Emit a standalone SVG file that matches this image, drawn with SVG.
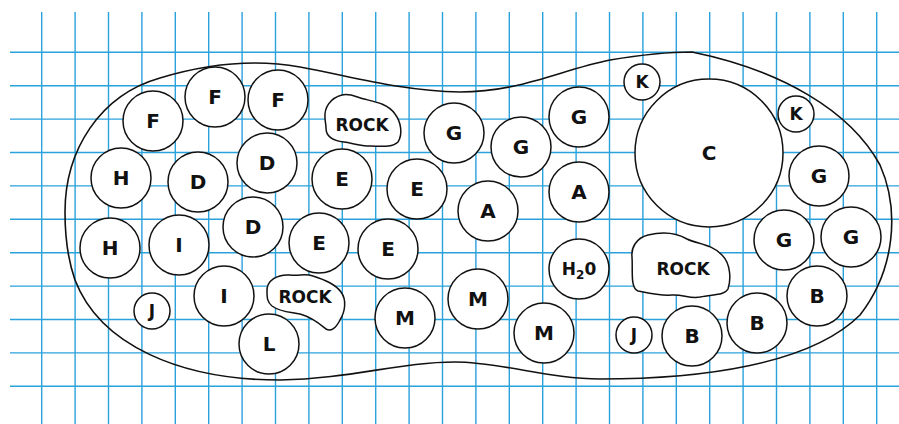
<svg xmlns="http://www.w3.org/2000/svg" width="899" height="424" viewBox="0 0 899 424">
<style>
.grid{stroke:#2aa2dc;stroke-width:1.4;fill:none}
.outline{fill:none;stroke:#111;stroke-width:1.6}
circle{fill:#fff;stroke:#111;stroke-width:1.5}
.rock{fill:#fff;stroke:#111;stroke-width:1.5}
text{font-family:"DejaVu Sans","Liberation Sans",sans-serif;font-weight:bold;font-size:20px;fill:#111;text-anchor:middle}
.rt{font-size:17px}
.st{font-size:17px}
</style>
<rect width="899" height="424" fill="#fff"/>
<g id="grid">
<path class="grid" d="M41.7 12V424M75.1 12V424M108.5 12V424M141.9 12V424M175.3 12V424M208.7 12V424M242.1 12V424M275.5 12V424M308.9 12V424M342.3 12V424M375.7 12V424M409.1 12V424M442.5 12V424M475.9 12V424M509.3 12V424M542.7 12V424M576.1 12V424M609.5 12V424M642.9 12V424M676.3 12V424M709.7 12V424M743.1 12V424M776.5 12V424M809.9 12V424M843.3 12V424M876.7 12V424"/>
<path class="grid" d="M10 52.3H899M10 85.7H899M10 119.1H899M10 152.5H899M10 185.9H899M10 219.3H899M10 252.7H899M10 286.1H899M10 319.5H899M10 352.9H899M10 386.3H899"/>
</g>
<g id="connectors">
<path class="outline" d="M65 212 C65 150 100 95 160 78 C200 66 250 58 300 67 C350 76 400 91 460 92 C520 92 560 70 610 60 C640 55 670 52 692 52 C780 70 850 110 880 165 C900 210 895 270 860 315 C810 365 700 379 600 379 C550 379 500 362 455 362 C400 362 350 379 280 380 C180 380 100 345 75 280 C68 260 65 235 65 212 Z"/>
</g>
<g id="rock1"><path class="rock" d="M267 292 C266 280 278 274 290 275 C300 276 305 273 313 276 C325 280 335 284 341 292 C347 300 345 312 340 320 C336 328 331 332 326 329 C320 324 312 317 300 314 C290 312 280 312 272 306 C267 302 267 297 267 292 Z"/><text class="rt" x="305" y="303">ROCK</text></g>
<g id="rock2"><path class="rock" d="M325 118 C324 108 330 98 342 95 C350 93 356 97 364 99 C376 102 388 104 395 114 C401 122 403 134 398 142 C392 148 380 146 370 146 C360 146 352 143 344 142 C334 141 326 138 326 128 C326 124 325 121 325 118 Z"/><text class="rt" x="362" y="131">ROCK</text></g>
<g id="rock3"><path class="rock" d="M632 257 C631 248 636 238 648 235 C660 232 675 232 687 239 C697 244 712 244 722 255 C731 264 731 280 728 289 C724 296 712 294 700 297 C690 299 682 294 672 295 C660 296 648 293 638 291 C630 288 633 270 632 257 Z"/><text class="rt" x="683" y="275">ROCK</text></g>
<g id="F1"><circle cx="153" cy="121" r="30"/><text x="153" y="128">F</text></g>
<g id="F2"><circle cx="215" cy="97" r="30"/><text x="215" y="104">F</text></g>
<g id="F3"><circle cx="278" cy="100" r="30"/><text x="278" y="107">F</text></g>
<g id="H1"><circle cx="121" cy="178" r="30"/><text x="121" y="185">H</text></g>
<g id="D1"><circle cx="198" cy="182" r="30"/><text x="198" y="189">D</text></g>
<g id="D2"><circle cx="267" cy="163" r="30"/><text x="267" y="170">D</text></g>
<g id="H2"><circle cx="110" cy="248" r="30"/><text x="110" y="255">H</text></g>
<g id="I1"><circle cx="179" cy="245" r="30"/><text x="179" y="252">I</text></g>
<g id="D3"><circle cx="253" cy="227" r="30"/><text x="253" y="234">D</text></g>
<g id="J1"><circle cx="152" cy="311" r="18"/><text class="st" x="152" y="317">J</text></g>
<g id="I2"><circle cx="224" cy="296" r="30"/><text x="224" y="303">I</text></g>
<g id="L"><circle cx="269" cy="344" r="30"/><text x="269" y="351">L</text></g>
<g id="E1"><circle cx="342" cy="179" r="30"/><text x="342" y="186">E</text></g>
<g id="E2"><circle cx="417" cy="189" r="30"/><text x="417" y="196">E</text></g>
<g id="E3"><circle cx="319" cy="243" r="30"/><text x="319" y="250">E</text></g>
<g id="E4"><circle cx="388" cy="249" r="30"/><text x="388" y="256">E</text></g>
<g id="G1"><circle cx="454" cy="133" r="30"/><text x="454" y="140">G</text></g>
<g id="G2"><circle cx="521" cy="147" r="30"/><text x="521" y="154">G</text></g>
<g id="G3"><circle cx="579" cy="117" r="30"/><text x="579" y="124">G</text></g>
<g id="A1"><circle cx="488" cy="211" r="30"/><text x="488" y="218">A</text></g>
<g id="A2"><circle cx="579" cy="192" r="30"/><text x="579" y="199">A</text></g>
<g id="M1"><circle cx="405" cy="318" r="30"/><text x="405" y="325">M</text></g>
<g id="M2"><circle cx="478" cy="299" r="30"/><text x="478" y="306">M</text></g>
<g id="M3"><circle cx="544" cy="333" r="30"/><text x="544" y="340">M</text></g>
<g id="H2O"><circle cx="579" cy="269" r="30"/><text class="st" x="579" y="275">H<tspan font-size="12" dy="4">2</tspan><tspan dy="-4">0</tspan></text></g>
<g id="K1"><circle cx="642" cy="82" r="18"/><text class="st" x="642" y="88">K</text></g>
<g id="K2"><circle cx="796" cy="114" r="18"/><text class="st" x="796" y="120">K</text></g>
<g id="C"><circle cx="709" cy="153" r="74"/><text x="709" y="160">C</text></g>
<g id="G4"><circle cx="819" cy="176" r="30"/><text x="819" y="183">G</text></g>
<g id="G5"><circle cx="784" cy="240" r="30"/><text x="784" y="247">G</text></g>
<g id="G6"><circle cx="851" cy="237" r="30"/><text x="851" y="244">G</text></g>
<g id="B1"><circle cx="817" cy="296" r="30"/><text x="817" y="303">B</text></g>
<g id="B2"><circle cx="757" cy="323" r="30"/><text x="757" y="330">B</text></g>
<g id="B3"><circle cx="692" cy="336" r="30"/><text x="692" y="343">B</text></g>
<g id="J2"><circle cx="634" cy="335" r="18"/><text class="st" x="634" y="341">J</text></g>
</svg>
